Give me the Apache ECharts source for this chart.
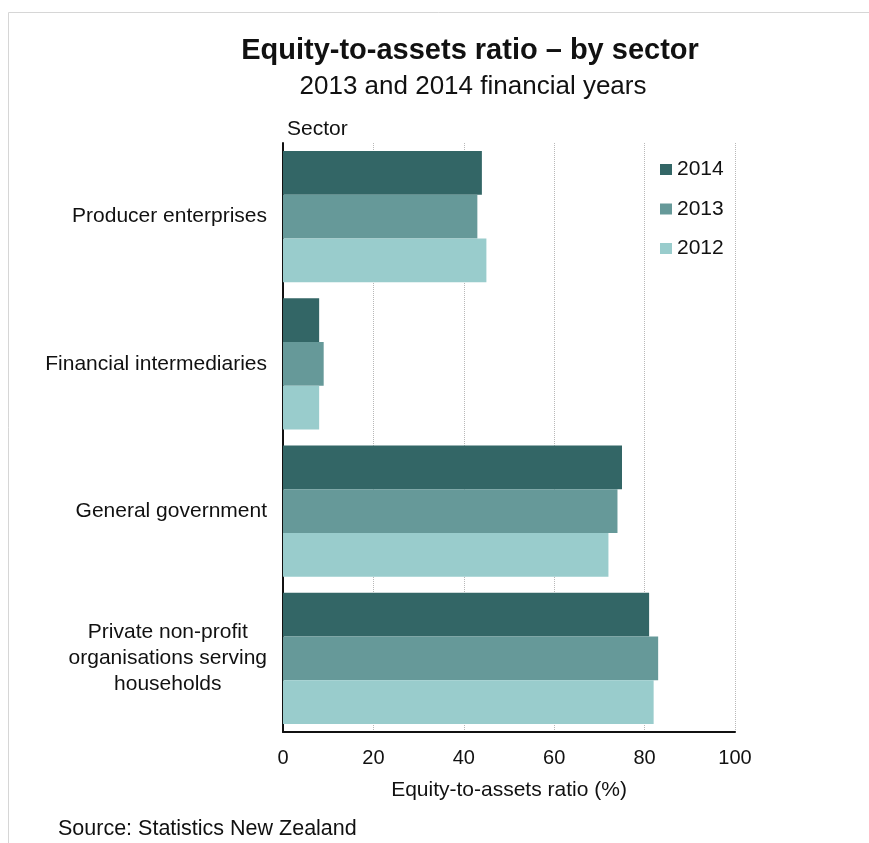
<!DOCTYPE html>
<html>
<head>
<meta charset="utf-8">
<script src="https://cdn.jsdelivr.net/npm/echarts@6/dist/echarts.min.js"></script>
<style>
  html, body { margin: 0; padding: 0; background: #fff; }
  #chart { width: 869px; height: 843px; }
</style>
</head>
<body>
<div id="chart"></div>
<script>
// Sectors, top to bottom
const sectors = [
  'Producer enterprises',
  'Financial intermediaries',
  'General government',
  'Private non-profit\norganisations serving\nhouseholds'
];
// Equity-to-assets ratio (%) per sector
const years = ['2014', '2013', '2012'];
const values2014 = [44, 8, 75, 81];
const values2013 = [43, 9, 74, 83];
const values2012 = [45, 8, 72, 82];
const xTicks = [0, 20, 40, 60, 80, 100];

const colors = { '2014': '#336666', '2013': '#669999', '2012': '#99CCCC' };
const seriesValues = { '2014': values2014, '2013': values2013, '2012': values2012 };

const FONT = '"Liberation Sans", Arial, sans-serif';

const chart = echarts.init(document.getElementById('chart'), null, { renderer: 'canvas' });

chart.setOption({
  backgroundColor: '#ffffff',
  animation: false,
  textStyle: { fontFamily: FONT, color: '#111' },
  title: [
    {
      text: 'Equity-to-assets ratio – by sector',
      left: 465, top: 31, textAlign: 'center',
      textStyle: { fontFamily: FONT, fontSize: 29, fontWeight: 'bold', color: '#111' }
    },
    {
      text: '2013 and 2014 financial years',
      left: 468, top: 69, textAlign: 'center',
      textStyle: { fontFamily: FONT, fontSize: 26, fontWeight: 'normal', color: '#111' }
    },
    {
      text: 'Source: Statistics New Zealand',
      left: 58, top: 818, padding: 0,
      textStyle: { fontFamily: FONT, fontSize: 21.5, fontWeight: 'normal', color: '#111' }
    }
  ],
  graphic: [
    {
      type: 'polyline', silent: true,
      shape: { points: [[8.5, 843], [8.5, 12.5], [869, 12.5]] },
      style: { stroke: '#d6d6d6', lineWidth: 1, fill: null }
    },
    {
      type: 'text', left: 287, top: 119,
      style: { text: 'Sector', font: '21px ' + FONT, fill: '#111' }
    }
  ],
  legend: {
    orient: 'vertical',
    left: 655, top: 154,
    itemWidth: 12, itemHeight: 11, itemGap: 18.5,
    icon: 'rect',
    data: years,
    textStyle: { fontFamily: FONT, fontSize: 21, color: '#111', lineHeight: 21 }
  },
  grid: { left: 283, right: 134, top: 143, bottom: 111, containLabel: false },
  xAxis: {
    type: 'value',
    min: xTicks[0], max: xTicks[xTicks.length - 1], interval: 20,
    name: 'Equity-to-assets ratio (%)',
    nameLocation: 'middle', nameGap: 48,
    nameTextStyle: { fontFamily: FONT, fontSize: 21, color: '#111' },
    axisLine: { show: true, lineStyle: { color: '#111', width: 2 } },
    axisTick: { show: false },
    axisLabel: { fontFamily: FONT, fontSize: 20, color: '#111', margin: 16 },
    splitLine: { show: true, lineStyle: { color: '#b8b8b8', type: 'dotted', width: 1 } }
  },
  yAxis: {
    type: 'category',
    inverse: true,
    data: sectors,
    axisLine: { show: true, lineStyle: { color: '#111', width: 2 } },
    axisTick: { show: false },
    axisLabel: {
      fontFamily: FONT, fontSize: 21, color: '#111', margin: 16,
      formatter: function (v) { return '{c|' + v + '}'; },
      rich: { c: { align: 'center', fontFamily: FONT, fontSize: 21, lineHeight: 26, color: '#111' } }
    },
    splitLine: { show: false }
  },
  series: years.map(function (y) {
    return {
      name: y,
      type: 'bar',
      data: seriesValues[y],
      barGap: '0%',
      barCategoryGap: '11%',
      itemStyle: { color: colors[y] }
    };
  })
});
</script>
</body>
</html>
